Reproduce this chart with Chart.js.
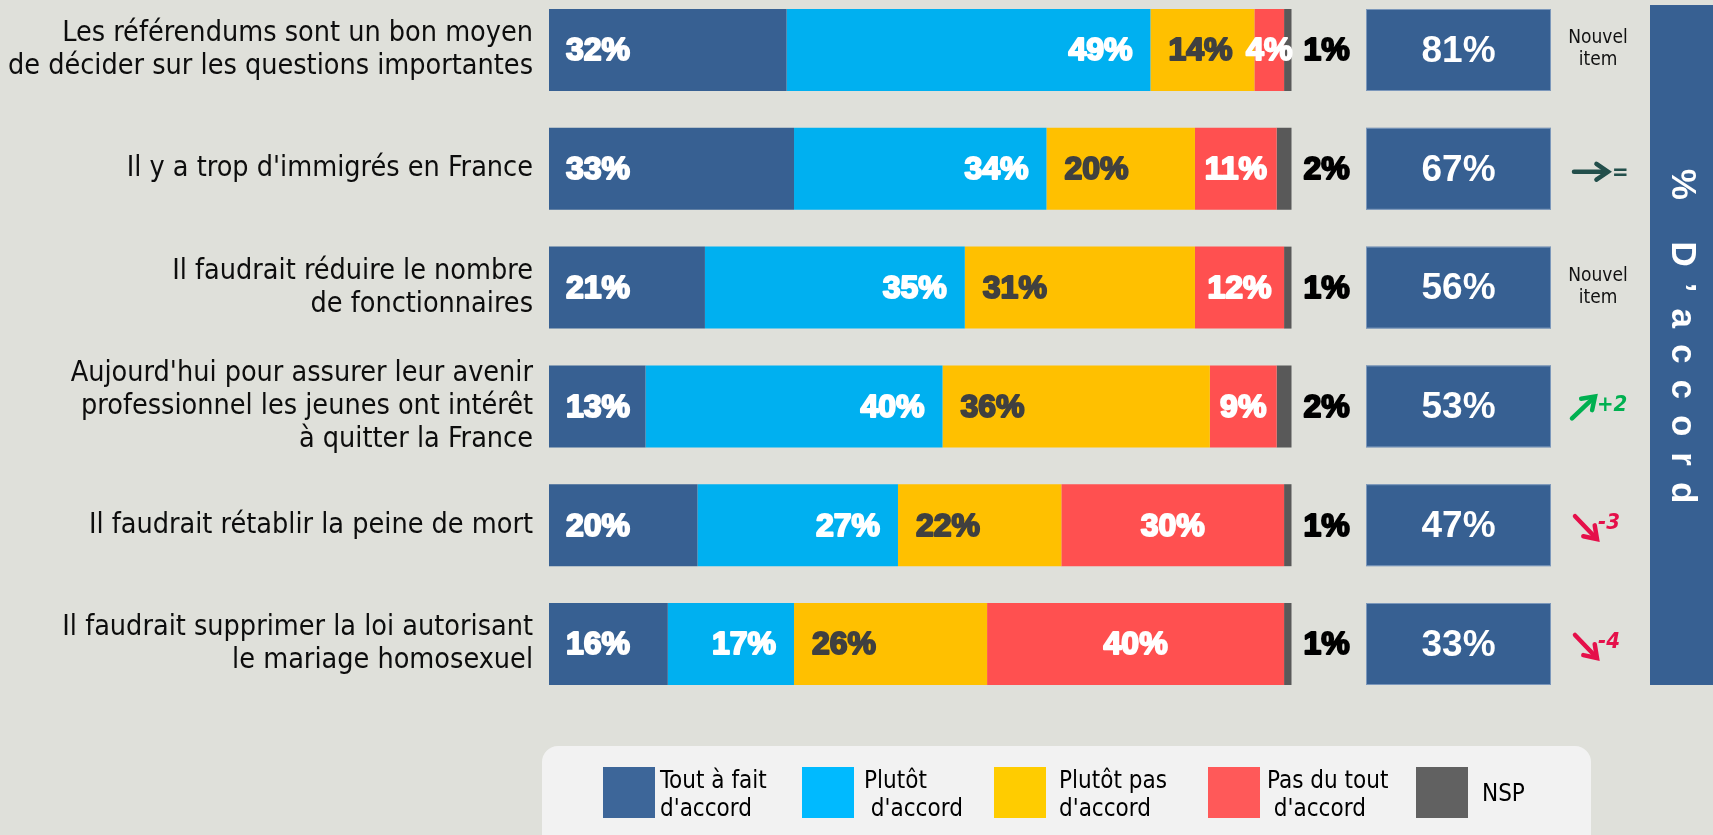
<!DOCTYPE html>
<html lang="fr">
<head>
<meta charset="utf-8">
<title>Opinions des Français</title>
<script src="https://cdn.jsdelivr.net/npm/chart.js@4.4.1/dist/chart.umd.min.js"></script>
<style>
  html, body { margin: 0; padding: 0; background: #DFE0DA; }
  canvas { display: block; }
</style>
</head>
<body>
<canvas id="chart" width="1713" height="835"></canvas>
<script>
// Statements (multi-line tick labels)
const categories = [
  ["Les référendums sont un bon moyen", "de décider sur les questions importantes"],
  ["Il y a trop d'immigrés en France"],
  ["Il faudrait réduire le nombre", "de fonctionnaires"],
  ["Aujourd'hui pour assurer leur avenir", "professionnel les jeunes ont intérêt", "à quitter la France"],
  ["Il faudrait rétablir la peine de mort"],
  ["Il faudrait supprimer la loi autorisant", "le mariage homosexuel"]
];

// Answer shares, in %
const toutAFait  = [32, 33, 21, 13, 20, 16];
const plutot     = [49, 34, 35, 40, 27, 17];
const plutotPas  = [14, 20, 31, 36, 22, 26];
const pasDuTout  = [4, 11, 12, 9, 30, 40];
const nsp        = [1, 2, 1, 2, 1, 1];

// Total agreement and change since previous wave
const accord    = [81, 67, 56, 53, 47, 33];
const evolution = ["nouvel", "=", "nouvel", "+2", "-3", "-4"];

const seriesNames = ["Tout à fait d'accord", "Plutôt d'accord", "Plutôt pas d'accord", "Pas du tout d'accord", "NSP"];
const legendLines = [["Tout à fait", "d'accord"], ["Plutôt", " d'accord"], ["Plutôt pas", "d'accord"], ["Pas du tout", " d'accord"], ["NSP"]];

// ---- fonts -------------------------------------------------------------
function hasFont(name) {
  const c = document.createElement('canvas').getContext('2d');
  const probe = 'abcdefghij WMil 0123';
  c.font = '40px monospace';
  const a = c.measureText(probe).width;
  c.font = '40px "' + name + '", monospace';
  const b = c.measureText(probe).width;
  return Math.abs(a - b) > 0.5;
}
const condensed = hasFont('DejaVu Sans Condensed');
const textFamily = condensed ? '"DejaVu Sans Condensed", "DejaVu Sans", sans-serif' : '"Liberation Sans", Arial, sans-serif';
const numFamily = '"Liberation Sans", Arial, sans-serif';

const barColors    = ['#376092', '#00B0F0', '#FFC000', '#FF5050', '#595959'];
const legendColors = ['#3D6699', '#00BAFF', '#FFCC00', '#FF5959', '#616161'];

// how each series prints its value inside the bar
const labelStyles = [
  { align: 'start',  pad: 16, color: '#FFFFFF' },
  { align: 'end',    pad: 17, color: '#FFFFFF' },
  { align: 'start',  pad: 17, color: '#404040' },
  { align: 'center', pad: 0,  color: '#FFFFFF' },
  { align: 'outside', pad: 35, color: '#000000' }
];

const valueLabels = {
  id: 'valueLabels',
  afterDatasetsDraw(chart) {
    const ctx = chart.ctx;
    ctx.save();
    ctx.font = 'bold 32px ' + numFamily;
    ctx.textBaseline = 'middle';
    ctx.lineJoin = 'round';
    chart.data.datasets.forEach((ds, d) => {
      const st = labelStyles[d];
      chart.getDatasetMeta(d).data.forEach((bar, i) => {
        const v = ds.data[i];
        const left = Math.min(bar.x, bar.base), right = Math.max(bar.x, bar.base);
        let x;
        if (st.align === 'start') { x = left + st.pad + 1; ctx.textAlign = 'left'; }
        else if (st.align === 'end') { x = right - st.pad - 1; ctx.textAlign = 'right'; }
        else if (st.align === 'center') { x = (left + right) / 2; ctx.textAlign = 'center'; }
        else { x = right + st.pad; ctx.textAlign = 'center'; }
        const txt = v + '%';
        ctx.fillStyle = st.color;
        ctx.strokeStyle = st.color;
        ctx.lineWidth = 2;
        ctx.strokeText(txt, x, bar.y + 1.5);
        ctx.fillText(txt, x, bar.y + 1.5);
      });
    });
    ctx.restore();
  }
};

function drawArrow(ctx, x1, y1, x2, y2, color) {
  const ang = Math.atan2(y2 - y1, x2 - x1);
  const head = 14, spread = 0.6;
  ctx.save();
  ctx.strokeStyle = color;
  ctx.lineWidth = 4.5;
  ctx.lineCap = 'round';
  ctx.lineJoin = 'miter';
  ctx.beginPath();
  ctx.moveTo(x1, y1);
  ctx.lineTo(x2 - Math.cos(ang) * 2, y2 - Math.sin(ang) * 2);
  ctx.stroke();
  ctx.beginPath();
  ctx.moveTo(x2 - head * Math.cos(ang - spread), y2 - head * Math.sin(ang - spread));
  ctx.lineTo(x2, y2);
  ctx.lineTo(x2 - head * Math.cos(ang + spread), y2 - head * Math.sin(ang + spread));
  ctx.stroke();
  ctx.restore();
}

const sidePanel = {
  id: 'sidePanel',
  afterDraw(chart) {
    const ctx = chart.ctx;
    const bars = chart.getDatasetMeta(0).data;
    ctx.save();

    // total agreement boxes
    bars.forEach((bar, i) => {
      const h = bar.height, top = bar.y - h / 2;
      ctx.fillStyle = '#376092';
      ctx.fillRect(1366, top, 185, h);
      ctx.strokeStyle = 'rgba(170,190,215,0.6)';
      ctx.lineWidth = 1;
      ctx.strokeRect(1366.5, top + 0.5, 184, h - 1);
      ctx.fillStyle = '#FFFFFF';
      ctx.font = 'bold 37px ' + numFamily;
      ctx.textAlign = 'center';
      ctx.textBaseline = 'middle';
      ctx.fillText(accord[i] + '%', 1458.5, bar.y + 1.5);

      // change since previous wave
      const e = evolution[i], y = bar.y;
      if (e === 'nouvel') {
        ctx.fillStyle = '#111111';
        ctx.font = '19px ' + textFamily;
        ctx.fillText('Nouvel', 1598, y - 12);
        ctx.fillText('item', 1598, y + 10);
      } else {
        ctx.font = 'italic bold 22px ' + textFamily;
        ctx.textAlign = 'left';
        let color;
        if (e === '=') {
          color = '#234F4B';
          drawArrow(ctx, 1574, y + 3, 1608, y + 3, color);
          ctx.fillStyle = color;
          ctx.fillText('=', 1612, y + 4);
        } else if (e.startsWith('+')) {
          color = '#00B050';
          drawArrow(ctx, 1572, y + 12, 1595, y - 10, color);
          ctx.fillStyle = color;
          ctx.fillText(e, 1597, y - 1);
        } else {
          color = '#E5104A';
          drawArrow(ctx, 1575, y - 9, 1597, y + 14, color);
          ctx.fillStyle = color;
          ctx.fillText(e, 1598, y - 2);
        }
      }
    });

    // vertical "% D'accord" banner
    const first = bars[0], last = bars[bars.length - 1];
    const bTop = first.y - first.height / 2 - 4, bBot = last.y + last.height / 2;
    ctx.fillStyle = '#376092';
    ctx.fillRect(1650, bTop, 70, bBot - bTop);
    ctx.translate(1682, (bTop + bBot) / 2 - 9);
    ctx.rotate(Math.PI / 2);
    ctx.fillStyle = '#FFFFFF';
    ctx.font = 'bold 35px ' + numFamily;
    ctx.letterSpacing = '16px';
    ctx.textAlign = 'center';
    ctx.textBaseline = 'middle';
    ctx.fillText('% D\u2019accord', 8, 0);
    ctx.restore();
  }
};

// legend drawn as a rounded panel with two-line entries
const legendPanel = {
  id: 'legendPanel',
  afterDraw(chart) {
    const ctx = chart.ctx;
    const o = chart.options.plugins.legendPanel;
    ctx.save();
    ctx.fillStyle = '#F2F2F2';
    ctx.beginPath();
    ctx.roundRect(o.x, o.y, o.w, o.h, 16);
    ctx.fill();
    ctx.font = '24px ' + textFamily;
    ctx.textAlign = 'left';
    ctx.textBaseline = 'alphabetic';
    chart.data.datasets.forEach((ds, d) => {
      const sx = o.itemX[d];
      ctx.fillStyle = ds.legendColor;
      ctx.fillRect(sx, o.swatchY, 52, 51);
      ctx.fillStyle = '#000000';
      const lines = ds.legendLines;
      const tx = sx + o.textGap[d];
      if (lines.length === 1) {
        ctx.fillText(lines[0], tx, o.swatchY + 34);
      } else {
        ctx.fillText(lines[0], tx, o.swatchY + 21);
        ctx.fillText(lines[1], tx, o.swatchY + 49);
      }
    });
    ctx.restore();
  }
};

const seriesData = [toutAFait, plutot, plutotPas, pasDuTout, nsp];

new Chart(document.getElementById('chart'), {
  type: 'bar',
  data: {
    labels: categories,
    datasets: seriesData.map((vals, d) => ({
      label: seriesNames[d],
      data: vals,
      backgroundColor: barColors[d],
      legendColor: legendColors[d],
      legendLines: legendLines[d],
      borderWidth: 0,
      barPercentage: 0.69,
      categoryPercentage: 1.0,
      clip: false
    }))
  },
  options: {
    indexAxis: 'y',
    responsive: false,
    devicePixelRatio: 1,
    animation: false,
    layout: { padding: { left: 0, right: 421.5, top: 50, bottom: 191 } },
    scales: {
      x: { stacked: true, min: 0, max: 100, display: false },
      y: {
        stacked: true,
        offset: false,
        grid: { display: false, drawTicks: false },
        border: { display: false },
        ticks: {
          color: '#0D0D0D',
          padding: 16,
          font: { family: textFamily, size: 28.5, lineHeight: '33px' }
        },
        afterFit(scale) { scale.width = 549; }
      }
    },
    plugins: {
      legend: { display: false },
      tooltip: { enabled: false },
      legendPanel: {
        x: 542, y: 746, w: 1049, h: 120, swatchY: 767,
        itemX: [603, 802, 994, 1208, 1416],
        textGap: [57, 62, 65, 59, 66]
      }
    }
  },
  plugins: [valueLabels, sidePanel, legendPanel]
});
</script>
</body>
</html>
